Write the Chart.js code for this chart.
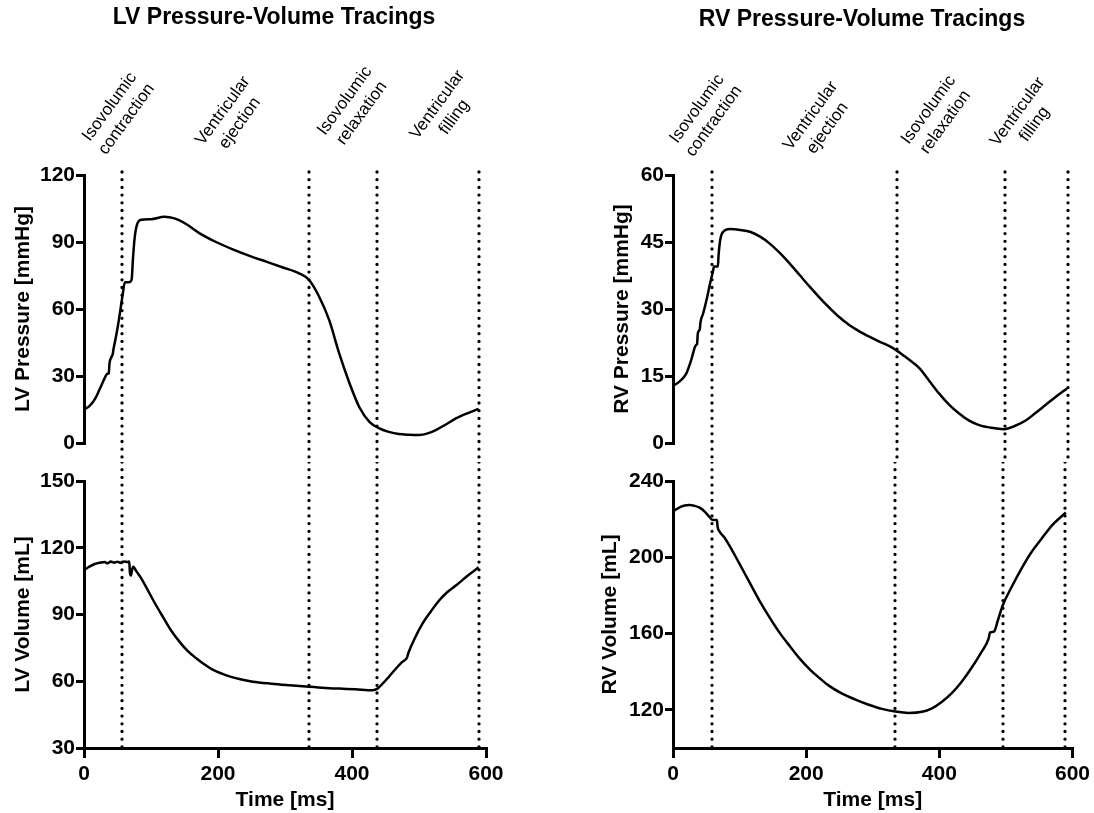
<!DOCTYPE html>
<html>
<head>
<meta charset="utf-8">
<title>LV and RV Pressure-Volume Tracings</title>
<script src="https://cdn.jsdelivr.net/npm/chart.js@4"></script>
<style>
  body { margin: 0; background: #fff; }
  .panel { position: absolute; }
  #lv-pressure { left: 0; top: 0; width: 547px; height: 462px; }
  #lv-volume { left: 0; top: 462px; width: 547px; height: 351px; }
  #rv-pressure { left: 589px; top: 0; width: 505px; height: 462px; }
  #rv-volume { left: 589px; top: 462px; width: 505px; height: 351px; }
</style>
</head>
<body>
<div class="panel" id="lv-pressure"><canvas></canvas></div>
<div class="panel" id="lv-volume"><canvas></canvas></div>
<div class="panel" id="rv-pressure"><canvas></canvas></div>
<div class="panel" id="rv-volume"><canvas></canvas></div>
<script>
// values (time in ms)
const timeTicks = [0, 200, 400, 600];
const phaseNames = [
  ["Isovolumic", "contraction"],
  ["Ventricular", "ejection"],
  ["Isovolumic", "relaxation"],
  ["Ventricular", "filling"]
];

const lvPressureTime = [0, 8, 16, 24, 30, 35, 37, 38, 41, 43, 44, 48, 52, 55, 58, 61, 67, 71, 73, 75,
  77, 80, 85, 100, 120, 135, 150, 172, 197, 222, 247, 272, 297, 321, 336, 351, 366, 381, 396, 411,
  426, 440, 455, 470, 485, 500, 513, 525, 540, 555, 572, 589];
const lvPressure = [15, 16.5, 19.5, 24.5, 28.5, 31, 31.2, 35.5, 38.5, 40, 42, 48, 55, 61, 67, 72, 72, 73, 82, 90,
  95, 98.5, 100, 100.2, 101.3, 100.6, 98.5, 94, 90, 86.7, 83.8, 81.2, 78.6, 76, 73, 65.5, 55, 40, 27, 16,
  9.5, 6.7, 5, 4, 3.7, 3.6, 4.3, 5.8, 8.3, 11, 13.3, 15.3];

const lvVolumeTime = [0, 8, 16, 24, 31, 35, 40, 45, 50, 55, 60, 65, 67.5, 68.5, 70, 72, 73.5, 75, 78, 85,
  93, 105, 118, 130, 143, 155, 168, 180, 192, 205, 217, 235, 252, 280, 307, 336, 360, 381, 405, 431,
  438, 446, 455, 465, 475, 482, 484, 494, 505, 518, 530, 542, 555, 572, 589];
const lvVolume = [110, 111.5, 112.7, 113.3, 113.6, 113, 113.8, 113.3, 113.7, 113.2, 113.8, 113.6, 113.8, 109, 107.5, 110.5, 111.5, 111, 109.5, 106.5,
  102.2, 95.5, 88.8, 82.8, 77.6, 73.5, 70.2, 67.5, 65.2, 63.5, 62.2, 60.8, 59.8, 58.9, 58.2, 57.5, 57, 56.7, 56.4, 56,
  56.7, 59, 62, 65.5, 68.7, 70.6, 72.6, 79.5, 85.8, 91.5, 96.3, 100, 103, 107.3, 111.2];

const rvPressureTime = [0, 10, 20, 27, 33, 35, 36, 37, 40, 41, 45, 50, 55, 60, 61, 67, 68, 70, 72, 75,
  85, 100, 115, 130, 144, 159, 174, 189, 204, 219, 234, 248, 263, 278, 293, 308, 323, 333, 345, 358,
  368, 382, 397, 412, 427, 442, 457, 475, 494, 510, 527, 541, 556, 571, 588];
const rvPressure = [12.8, 13.8, 15.6, 18.5, 21.6, 22, 22.2, 24.5, 25.5, 27, 29, 32, 35.5, 38.7, 39.5, 39.5, 42, 45, 46.5, 47.3,
  47.9, 47.7, 47.3, 46.2, 44.7, 42.6, 40.2, 37.6, 35, 32.5, 30.2, 28.2, 26.4, 25, 23.8, 22.7, 21.7, 20.8, 19.5, 18,
  16.7, 14, 11.1, 8.6, 6.6, 5, 4, 3.4, 3.1, 3.8, 5.1, 6.7, 8.5, 10.3, 12.2];

const rvVolumeTime = [0, 8, 16, 25, 32, 40, 48, 55, 60, 66, 67, 70, 77, 85, 100, 115, 130, 145, 160, 175,
  190, 205, 220, 234, 254, 274, 294, 314, 334, 354, 374, 389, 403, 418, 433, 448, 463, 474, 476, 482,
  488, 495, 508, 523, 538, 553, 570, 590];
const rvVolume = [224, 225.8, 227, 227.4, 227, 226, 223.8, 221, 219.5, 219.5, 216, 213.5, 210.5, 206, 196.5, 186.8, 177.2, 168.5, 160.5, 153.6,
  147, 141.4, 136.7, 132.7, 128.5, 125.4, 122.7, 120.5, 119.1, 118.4, 119, 120.8, 124, 128.5, 134.5, 141.8, 150.2, 157.3, 160.5, 161,
  167, 174.6, 184, 193.8, 202.5, 209.5, 217, 223.5];

const lvPhaseLines = [57, 336, 438, 589];
const rvPhaseLines = [58, 334, 495, 589];
const lvLabelTimes = [51, 220, 402, 540];
const rvLabelTimes = [48.5, 218, 394, 527];

const lvPressureTicks = [0, 30, 60, 90, 120];
const lvVolumeTicks = [30, 60, 90, 120, 150];
const rvPressureTicks = [0, 15, 30, 45, 60];
const rvVolumeTicks = [120, 160, 200, 240];

const fontFamily = "'Liberation Sans', Arial, sans-serif";
Chart.defaults.font.family = fontFamily;
Chart.defaults.color = "#000";

const tickFont = { size: 21, weight: "bold" };
const axisFont = { size: 21, weight: "bold" };

// dotted vertical lines at the phase boundaries
const phaseLines = {
  id: "phaseLines",
  afterDatasetsDraw(chart, args, opts) {
    if (!opts.times) return;
    const ctx = chart.ctx;
    const xs = chart.scales.x;
    const top = opts.top != null ? opts.top : 0;
    const bottom = opts.bottom != null ? opts.bottom : chart.chartArea.bottom;
    ctx.save();
    ctx.strokeStyle = "#000";
    ctx.lineWidth = 3.3;
    ctx.lineCap = "round";
    ctx.setLineDash([0, 7.7]);
    for (const t of opts.times) {
      const px = Math.round(xs.getPixelForValue(t));
      ctx.beginPath();
      ctx.moveTo(px, top);
      ctx.lineTo(px, bottom);
      ctx.stroke();
    }
    ctx.restore();
  }
};

// panel title and slanted phase names above the pressure plots
const phaseLabels = {
  id: "phaseLabels",
  afterDraw(chart, args, opts) {
    if (!opts.times) return;
    const ctx = chart.ctx;
    const xs = chart.scales.x;
    ctx.save();
    ctx.fillStyle = "#000";
    ctx.textAlign = "center";
    ctx.textBaseline = "middle";
    ctx.font = "bold 23px " + fontFamily;
    ctx.fillText(opts.title, opts.titleX, opts.titleY);

    ctx.font = "17px " + fontFamily;
    opts.times.forEach((t, i) => {
      ctx.save();
      ctx.translate(xs.getPixelForValue(t), opts.y[i]);
      ctx.rotate(-54 * Math.PI / 180);
      ctx.fillText(phaseNames[i][0], 0, -10.5);
      ctx.fillText(phaseNames[i][1], 0, 10.5);
      ctx.restore();
    });
    ctx.restore();
  }
};

function drawPanel(p) {
  const points = p.time.map((t, i) => ({ x: t, y: p.values[i] }));
  const isVolume = p.kind === "volume";
  const xScale = {
    type: "linear",
    min: 0,
    max: 600,
    display: isVolume,
    afterBuildTicks: (s) => { s.ticks = timeTicks.map((v) => ({ value: v })); },
    grid: { drawOnChartArea: false, tickLength: 10, color: "#000", lineWidth: 3 },
    border: { color: "#000", width: 3 },
    ticks: { font: tickFont, padding: 4, maxRotation: 0 },
    title: { display: true, text: "Time [ms]", font: axisFont, padding: { top: 0, bottom: 0.4 } }
  };
  if (isVolume) xScale.afterFit = (s) => { s.height = 65; };

  const plugins = {
    legend: { display: false },
    tooltip: { enabled: false },
    phaseLines: {
      times: p.lines,
      top: isVolume ? 0 : 172,
      bottom: isVolume ? undefined : 462
    }
  };
  if (!isVolume) {
    plugins.phaseLabels = {
      times: p.labelTimes, y: p.labelY,
      title: p.title, titleX: p.titleX, titleY: p.titleY
    };
  }

  return new Chart(document.querySelector(p.el + " canvas"), {
    type: "line",
    data: {
      datasets: [{
        data: points,
        borderColor: "#000",
        borderWidth: 2.5,
        pointRadius: 0,
        fill: false,
        cubicInterpolationMode: "monotone"
      }]
    },
    options: {
      responsive: true,
      maintainAspectRatio: false,
      animation: false,
      devicePixelRatio: 1,
      events: [],
      layout: { padding: { top: isVolume ? 19 : 175, bottom: isVolume ? 0 : 19, left: 0, right: p.padRight } },
      scales: {
        x: xScale,
        y: {
          type: "linear",
          min: p.min,
          max: p.max,
          afterBuildTicks: (s) => { s.ticks = p.ticks.map((v) => ({ value: v })); },
          afterFit: (s) => { s.width = 84; },
          grid: { drawOnChartArea: false, tickLength: 8, color: "#000", lineWidth: 3 },
          border: { color: "#000", width: 3 },
          ticks: { font: tickFont, padding: 1 },
          title: { display: true, text: p.axisTitle, font: axisFont, padding: { top: p.axisTitlePad, bottom: 0 } }
        }
      },
      plugins: plugins
    },
    plugins: [phaseLines, phaseLabels]
  });
}

drawPanel({
  el: "#lv-pressure", kind: "pressure", time: lvPressureTime, values: lvPressure,
  min: 0, max: 120, ticks: lvPressureTicks, axisTitle: "LV Pressure [mmHg]", axisTitlePad: 10.4,
  title: "LV Pressure-Volume Tracings", titleX: 274, titleY: 18, padRight: 61,
  lines: lvPhaseLines, labelTimes: lvLabelTimes, labelY: [113, 117, 107, 111]
});
drawPanel({
  el: "#lv-volume", kind: "volume", time: lvVolumeTime, values: lvVolume,
  min: 30, max: 150, ticks: lvVolumeTicks, axisTitle: "LV Volume [mL]", axisTitlePad: 10.4,
  padRight: 61, lines: lvPhaseLines
});
drawPanel({
  el: "#rv-pressure", kind: "pressure", time: rvPressureTime, values: rvPressure,
  min: 0, max: 60, ticks: rvPressureTicks, axisTitle: "RV Pressure [mmHg]", axisTitlePad: 20.4,
  title: "RV Pressure-Volume Tracings", titleX: 273, titleY: 20, padRight: 19,
  lines: rvPhaseLines, labelTimes: rvLabelTimes, labelY: [115, 122, 116, 118]
});
drawPanel({
  el: "#rv-volume", kind: "volume", time: rvVolumeTime, values: rvVolume,
  min: 100, max: 240, ticks: rvVolumeTicks, axisTitle: "RV Volume [mL]", axisTitlePad: 8.4,
  padRight: 19, lines: rvPhaseLines
});
</script>
</body>
</html>
